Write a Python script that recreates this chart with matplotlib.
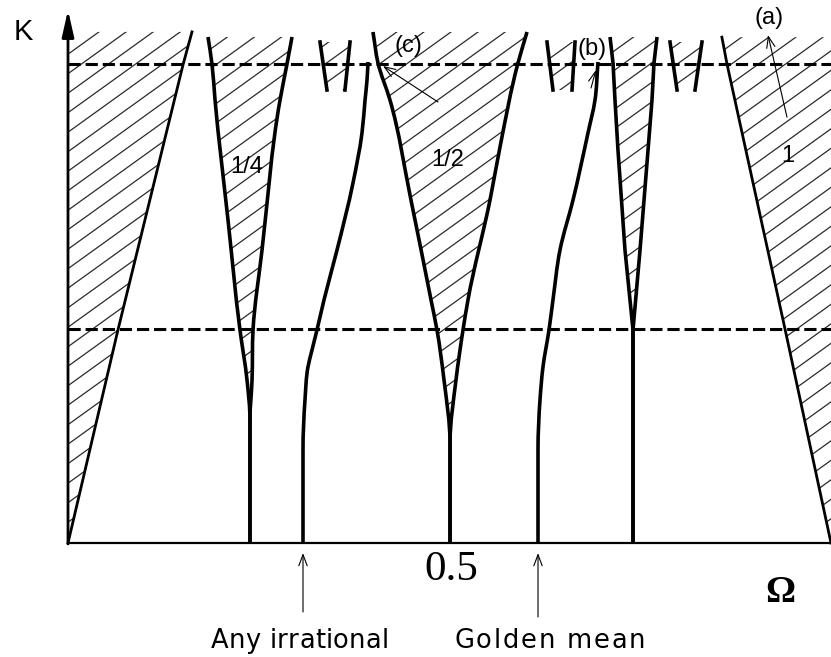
import matplotlib
matplotlib.use("Agg")
import matplotlib.pyplot as plt
import numpy as np
from matplotlib.patches import Polygon, PathPatch
from matplotlib.path import Path
from matplotlib.transforms import offset_copy

# --- data (Omega, K) ---
# tongue 0/1 : right edge (left edge is the K axis)
t0_om = [0.0, 0.0655, 0.151, 0.1625]
t0_k = [0.0, 0.445, 1.0, 1.067]
# tongue 1/1 : left edge (right edge is the frame)
t1_om = [1.0, 0.9397, 0.8637, 0.857]
t1_k = [0.0, 0.447, 1.0, 1.056]
# tongue 1/4
q_left_om = [0.2385, 0.2385, 0.2346, 0.2254, 0.2097, 0.1927, 0.1887, 0.1835]
q_right_om = [0.2385, 0.2385, 0.2412, 0.2425, 0.2543, 0.2779, 0.2870, 0.2936]
q_left_k = [0.0, 0.2568, 0.3403, 0.4447, 0.6743, 0.9248, 1.0, 1.0564]
q_right_k = [0.0, 0.2568, 0.3403, 0.4447, 0.6117, 0.9248, 1.0, 1.0564]
# tongue 1/2
h_left_om = [0.5007, 0.5007, 0.4928, 0.4836, 0.4758, 0.4495, 0.4220, 0.4063, 0.3997]
h_right_om = [0.5007, 0.5007, 0.5085, 0.5177, 0.5242, 0.5531, 0.5662, 0.5898, 0.6016]
h_left_k = [0.0, 0.2088, 0.3403, 0.4447, 0.5073, 0.7161, 0.9248, 1.0021, 1.0668]
h_right_k = [0.0, 0.2088, 0.3403, 0.4447, 0.5073, 0.7161, 0.8267, 1.0021, 1.0668]
# tongue near 3/4
r_left_om = [0.7405, 0.7405, 0.7300, 0.7208, 0.7169, 0.7143, 0.7104]
r_right_om = [0.7405, 0.7405, 0.7497, 0.7602, 0.7654, 0.7680, 0.7720]
r_k = [0.0, 0.4447, 0.6117, 0.8205, 0.9248, 1.0021, 1.0564]
# small tongues just above K=1: (left bottom, left top, right top, right bottom)
small_om = [[0.3394, 0.3303, 0.3696, 0.3630],
            [0.6356, 0.6278, 0.6645, 0.6606],
            [0.7982, 0.7890, 0.8309, 0.8218]]
small_k = [0.9457, 1.0459, 1.0459, 0.9457]
# curves for irrational winding numbers
irr_om = [0.3080, 0.3080, 0.3106, 0.3145, 0.3198, 0.3263, 0.3355, 0.3526,
          0.3735, 0.3853, 0.3893, 0.3919, 0.3932]
irr_k = [0.0, 0.1942, 0.2985, 0.3674, 0.4029, 0.4447, 0.5073, 0.6117,
         0.7516, 0.8560, 0.9248, 0.9666, 1.0042]
gold_om = [0.6160, 0.6160, 0.6186, 0.6225, 0.6304, 0.6356, 0.6448, 0.6619,
           0.6815, 0.6907, 0.6946]
gold_k = [0.0, 0.1942, 0.2985, 0.3674, 0.4447, 0.5073, 0.6117, 0.7161,
          0.8560, 0.9248, 1.0042]
# dashed K levels
k_levels = [1.0, 0.447]

fig = plt.figure(figsize=(8.31, 6.57), dpi=100)
ax = fig.add_axes([0, 0, 1, 1])
ax.set_xlim(-68 / 763, 1.0)
ax.set_ylim(-114 / 479, 543 / 479)
ax.axis('off')

HSLOPE = 0.72 * 763 / 479   # hatch slope in data units
HSTEP = 19.5 / 479
PX = np.array([763.0, 479.0])  # data -> pixel scale, for chord lengths


def hatch(xs, ys):
    poly = Polygon(np.column_stack([xs, ys]), closed=True, fc='none', ec='none')
    ax.add_patch(poly)
    xx = np.array([-0.2, 1.1])
    for c in np.arange(-1.3, 1.2, HSTEP):
        ln, = ax.plot(xx, HSLOPE * xx + c, color='#2a2a2a', lw=0.9, zorder=1)
        ln.set_clip_path(poly)


def smooth(xs, ys, lw=2.6):
    # bezier through the read points, tangents from chord-length differences;
    # the first (vertical) piece stays straight and the curve leaves it tangentially
    p = np.column_stack([xs, ys])
    n = len(p)
    d = np.linalg.norm(np.diff(p * PX, axis=0), axis=1)
    t = np.concatenate([[0], np.cumsum(d)])
    m = np.zeros_like(p)
    m[0] = (p[1] - p[0]) / (t[1] - t[0])
    m[1] = m[0]
    m[-1] = (p[-1] - p[-2]) / (t[-1] - t[-2])
    for i in range(2, n - 1):
        a = (p[i] - p[i - 1]) / (t[i] - t[i - 1])
        b = (p[i + 1] - p[i]) / (t[i + 1] - t[i])
        m[i] = (a * d[i] + b * d[i - 1]) / (d[i] + d[i - 1])
    verts = [p[0]]
    codes = [Path.MOVETO]
    for i in range(n - 1):
        h = d[i] / 3
        verts += [p[i] + m[i] * h, p[i + 1] - m[i + 1] * h, p[i + 1]]
        codes += [Path.CURVE4] * 3
    ax.add_patch(PathPatch(Path(verts, codes), fc='none', ec='k', lw=lw,
                           zorder=3, capstyle='butt'))


def spaced_text(x, y, s, gap_px, **kw):
    # centred text with extra letter spacing
    r = fig.canvas.get_renderer()
    tmp = ax.text(0, 0, 'x', **kw)
    widths = []
    for ch in s:
        tmp.set_text(ch)
        widths.append(tmp.get_window_extent(renderer=r).width)
    tmp.remove()
    total = sum(widths) + gap_px * (len(s) - 1)
    pos = -total / 2
    for ch, w in zip(s, widths):
        tr = offset_copy(ax.transData, fig=fig, x=pos * 72 / fig.dpi, y=0, units='points')
        ax.text(x, y, ch, transform=tr, ha='left', **kw)
        pos += w + gap_px


# hatched regions
hatch([0.0] + t0_om + [0.0], [0.0] + t0_k + [t0_k[-1]])
hatch(t1_om + [1.0], t1_k + [t1_k[-1]])
hatch(q_left_om + q_right_om[::-1], q_left_k + q_right_k[::-1])
hatch(h_left_om + h_right_om[::-1], h_left_k + h_right_k[::-1])
hatch(r_left_om + r_right_om[::-1], r_k + r_k[::-1])
for om in small_om:
    hatch(om, small_k)

# tongue borders
ax.plot(t0_om, t0_k, color='k', lw=2.0, zorder=3)
ax.plot(t1_om, t1_k, color='k', lw=2.0, zorder=3)
for om, k in [(q_left_om, q_left_k), (q_right_om, q_right_k),
              (h_left_om, h_left_k), (h_right_om, h_right_k)]:
    smooth(om, k)
ax.plot(r_left_om, r_k, color='k', lw=2.6, zorder=3, solid_capstyle='butt')
ax.plot(r_right_om, r_k, color='k', lw=2.6, zorder=3, solid_capstyle='butt')
for om in small_om:
    ax.plot(om[:2], small_k[:2], color='k', lw=2.6, zorder=3)
    ax.plot(om[2:], small_k[2:], color='k', lw=2.6, zorder=3)
smooth(irr_om, irr_k)
smooth(gold_om, gold_k)

# dashed K levels
for k in k_levels:
    ax.plot([0.0, 1.0], [k, k], color='k', lw=2.2, ls=(0, (4, 1.6)), zorder=4)

# axes
ax.plot([0.0, 1.0], [0.0, 0.0], color='k', lw=1.6, zorder=5, solid_capstyle='butt')
ax.annotate('', xy=(0.0, 533 / 479), xytext=(0.0, -0.002),
            arrowprops=dict(arrowstyle='-|>,head_length=1.6,head_width=0.36',
                            mutation_scale=10, lw=2.0, color='k',
                            shrinkA=0, shrinkB=0), zorder=5)

# labels
ax.text(-0.059, 1.067, 'K', fontsize=21, family='Liberation Sans',
        ha='center', va='center')
ax.text(0.502, -0.056, '0.5', fontsize=31, family='Liberation Serif',
        ha='center', va='center')
ax.text(0.933, -0.104, 'Ω', fontsize=27, family='Liberation Serif',
        weight='bold', ha='center', va='center')
spaced_text(0.304, -0.2192, 'Any irrational', 0.3, fontsize=18.5,
            family='DejaVu Sans', va='baseline')
spaced_text(0.6315, -0.2192, 'Golden mean', 1.8, fontsize=18.5,
            family='DejaVu Sans', va='baseline')
ax.text(0.2346, 0.785, '1/4', fontsize=17, family='Liberation Sans',
        ha='center', va='center', zorder=6)
ax.text(0.498, 0.80, '1/2', fontsize=17, family='Liberation Sans',
        ha='center', va='center', zorder=6)
ax.text(0.9437, 0.808, '1', fontsize=17, family='Liberation Sans',
        ha='center', va='center', zorder=6)
ax.text(0.9187, 1.096, '(a)', fontsize=17, family='Liberation Sans',
        ha='center', va='center', zorder=6)
ax.text(0.6868, 1.031, '(b)', fontsize=17, family='Liberation Sans',
        ha='center', va='center', zorder=6)
ax.text(0.4456, 1.0376, '(c)', fontsize=17, family='Liberation Sans',
        ha='center', va='center', zorder=6)

# thin pointer arrows
thin = dict(arrowstyle='->,head_length=0.8,head_width=0.3', mutation_scale=10,
            lw=0.8, color='k', shrinkA=0, shrinkB=0)
ax.annotate('', xy=(0.3080, -0.021), xytext=(0.3080, -0.144), arrowprops=thin)
ax.annotate('', xy=(0.6160, -0.021), xytext=(0.6160, -0.1545), arrowprops=thin)
ax.annotate('', xy=(0.9174, 1.0605), xytext=(0.9423, 0.889), arrowprops=thin)
ax.annotate('', xy=(0.4128, 0.9958), xytext=(0.4849, 0.9207), arrowprops=thin)
ax.annotate('', xy=(0.6920, 0.9875), xytext=(0.6855, 0.9499), arrowprops=thin)

fig.savefig('out.png', dpi=100)
